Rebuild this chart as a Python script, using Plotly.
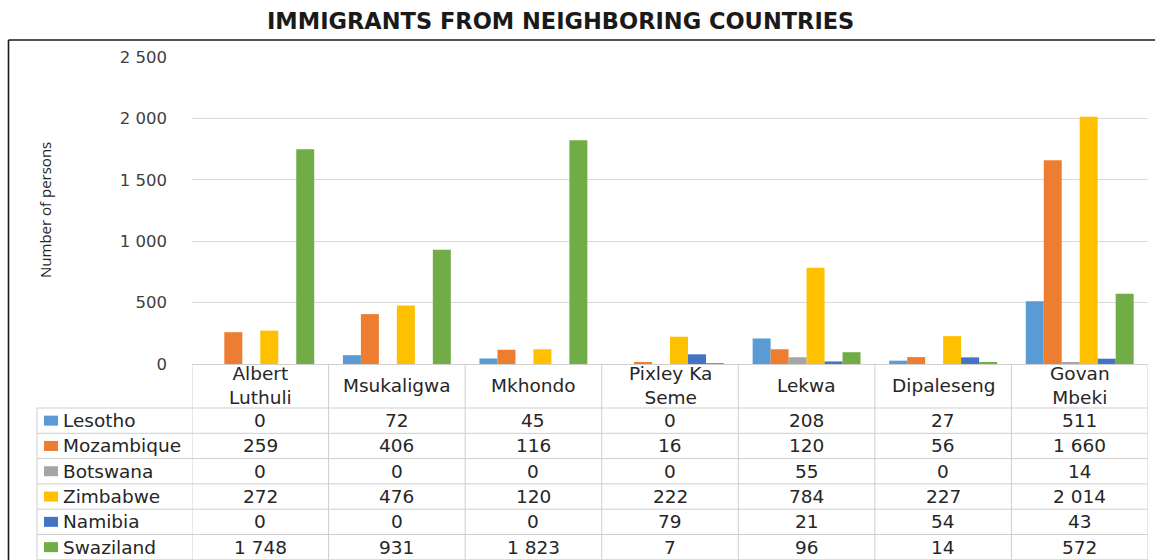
import plotly.graph_objects as go

# Municipalities (column headers of the data table) and source countries
districts = ["Albert<br>Luthuli", "Msukaligwa", "Mkhondo", "Pixley Ka<br>Seme",
             "Lekwa", "Dipaleseng", "Govan<br>Mbeki"]
countries = ["Lesotho", "Mozambique", "Botswana", "Zimbabwe", "Namibia", "Swaziland"]

lesotho = [0, 72, 45, 0, 208, 27, 511]
mozambique = [259, 406, 116, 16, 120, 56, 1660]
botswana = [0, 0, 0, 0, 55, 0, 14]
zimbabwe = [272, 476, 120, 222, 784, 227, 2014]
namibia = [0, 0, 0, 79, 21, 54, 43]
swaziland = [1748, 931, 1823, 7, 96, 14, 572]

y_ticks = [0, 500, 1000, 1500, 2000, 2500]
colors = ["#5B9BD5", "#ED7D31", "#A5A5A5", "#FFC000", "#4472C4", "#70AD47"]

series = [lesotho, mozambique, botswana, zimbabwe, namibia, swaziland]

# page geometry in pixels
W, H = 1155, 560
L, R, T, B = 192, 1148, 57, 364
ROW_TOP = 408
ROW_H = 25.3
GRID = "#D9D9D9"
TABLE_LINE = "#CFCFCF"
TEXT = "#262626"
FONT = "DejaVu Sans"
CELL_SIZE = 18.5


def px(x):
    return (x - L) / (R - L)


def py(y):
    return (B - y) / (B - T)


def fmt(v):
    return f"{v:,}".replace(",", " ")


fig = go.Figure()
for name, vals, col in zip(countries, series, colors):
    fig.add_trace(go.Bar(x=districts, y=vals, name=name, marker_color=col,
                         marker_line_width=0))

shapes = []
annotations = []

# outer frame (left and top edges)
shapes.append(dict(type="line", xref="paper", yref="paper", x0=px(8.5), x1=px(1160),
                   y0=py(40), y1=py(40), line=dict(color="#1a1a1a", width=1.6)))
shapes.append(dict(type="line", xref="paper", yref="paper", x0=px(8.5), x1=px(8.5),
                   y0=py(40), y1=py(565), line=dict(color="#1a1a1a", width=1.6)))

# data table: vertical separators between municipalities
for j in range(len(districts) + 1):
    shapes.append(dict(type="line", xref="x", yref="paper", x0=j - 0.5, x1=j - 0.5,
                       y0=py(B), y1=py(H), line=dict(color=TABLE_LINE, width=1)))
# legend column left edge
shapes.append(dict(type="line", xref="paper", yref="paper", x0=px(37), x1=px(37),
                   y0=py(ROW_TOP), y1=py(H), line=dict(color=TABLE_LINE, width=1)))
# row separators
for i in range(len(countries) + 1):
    yy = ROW_TOP + ROW_H * i
    shapes.append(dict(type="line", xref="paper", yref="paper", x0=px(37), x1=px(R),
                       y0=py(yy), y1=py(yy), line=dict(color=TABLE_LINE, width=1)))

# column headers
for j, d in enumerate(districts):
    annotations.append(dict(x=j, xref="x", y=py(385), yref="paper", text=d,
                            showarrow=False, xanchor="center", yanchor="middle",
                            font=dict(size=CELL_SIZE, color=TEXT, family=FONT)))

# rows: legend key, country name, values
for i, (name, vals, col) in enumerate(zip(countries, series, colors)):
    yc = ROW_TOP + ROW_H * i + ROW_H / 2
    shapes.append(dict(type="rect", xref="paper", yref="paper", x0=px(44), x1=px(58),
                       y0=py(yc - 5), y1=py(yc + 5), fillcolor=col, line_width=0))
    annotations.append(dict(x=px(61), xref="paper", y=py(yc), yref="paper", text=name,
                            showarrow=False, xanchor="left", yanchor="middle",
                            font=dict(size=CELL_SIZE, color=TEXT, family=FONT)))
    for j, v in enumerate(vals):
        annotations.append(dict(x=j, xref="x", y=py(yc), yref="paper", text=fmt(v),
                                showarrow=False, xanchor="center", yanchor="middle",
                                font=dict(size=CELL_SIZE, color=TEXT, family=FONT)))

# title and axis title
annotations.append(dict(x=px(560), xref="paper", y=py(21), yref="paper",
                        text="<b>IMMIGRANTS FROM NEIGHBORING COUNTRIES</b>",
                        showarrow=False, xanchor="center", yanchor="middle",
                        font=dict(size=22.5, color="#1a1a1a", family=FONT)))
annotations.append(dict(x=px(45), xref="paper", y=py(210), yref="paper",
                        text="Number of persons", textangle=-90,
                        showarrow=False, xanchor="center", yanchor="middle",
                        font=dict(size=15, color=TEXT, family="Open Sans")))

fig.update_layout(
    width=W, height=H,
    margin=dict(l=L, r=W - R, t=T, b=H - B, pad=0),
    paper_bgcolor="white", plot_bgcolor="white",
    barmode="group", bargap=0.21, bargroupgap=0,
    showlegend=False,
    separators=". ",
    font=dict(family=FONT, color=TEXT),
    shapes=shapes, annotations=annotations,
    xaxis=dict(range=[-0.5, len(districts) - 0.5], showticklabels=False,
               showgrid=False, zeroline=False, showline=True,
               linecolor=TABLE_LINE, linewidth=1, fixedrange=True),
    yaxis=dict(range=[0, 2500], tickvals=y_ticks, tickformat=",d",
               showgrid=True, gridcolor=GRID, gridwidth=1, zeroline=False,
               showline=False, ticks="", ticklabelstandoff=24,
               tickfont=dict(size=16.5, color="#404040", family=FONT),
               fixedrange=True),
)

fig.write_html("out.html")
